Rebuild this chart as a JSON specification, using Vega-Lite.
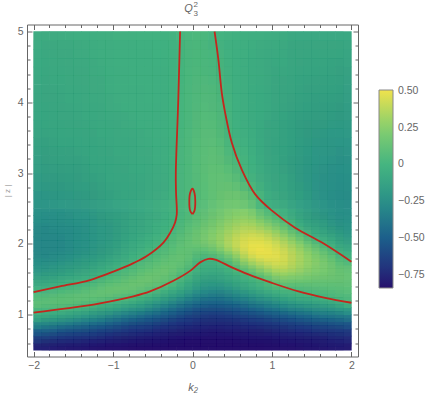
{"$schema":"https://vega.github.io/schema/vega-lite/v6.json","width":331,"height":332,"autosize":"none","padding":{"left":27,"top":24.5,"right":73,"bottom":36.5},"background":"white",
"title":{"text":"Q","font":"Liberation Sans","fontSize":11,"fontStyle":"italic","fontWeight":"normal","color":"#666","dx":-4,"offset":-13,"anchor":"middle"},
"config":{"view":{"stroke":null},"axis":{"grid":false,"domainColor":"#666","tickColor":"#666","labelColor":"#666","titleColor":"#666","labelFont":"Liberation Sans","titleFont":"Liberation Sans","labelFontSize":10.5,"titleFontWeight":"normal","domainWidth":1,"tickWidth":1,"labelOverlap":false,"labelBound":false,"labelFlush":false}},
"datasets":{
"low":[
{"k":-1.9,"z":0.55,"v":-0.78},{"k":-1.9,"z":0.65,"v":-0.67},{"k":-1.9,"z":0.75,"v":-0.52},{"k":-1.9,"z":0.85,"v":-0.32},{"k":-1.9,"z":0.95,"v":-0.12},{"k":-1.9,"z":1.05,"v":0},{"k":-1.9,"z":1.15,"v":0.1},{"k":-1.9,"z":1.25,"v":0.07},{"k":-1.9,"z":1.35,"v":-0.01},{"k":-1.9,"z":1.45,"v":-0.09},{"k":-1.9,"z":1.55,"v":-0.16},{"k":-1.9,"z":1.65,"v":-0.22},{"k":-1.9,"z":1.75,"v":-0.26},{"k":-1.9,"z":1.85,"v":-0.29},{"k":-1.9,"z":1.95,"v":-0.3},{"k":-1.9,"z":2.05,"v":-0.3},{"k":-1.9,"z":2.15,"v":-0.29},{"k":-1.9,"z":2.25,"v":-0.28},{"k":-1.9,"z":2.35,"v":-0.26},{"k":-1.9,"z":2.45,"v":-0.25},
{"k":-1.7,"z":0.55,"v":-0.8},{"k":-1.7,"z":0.65,"v":-0.7},{"k":-1.7,"z":0.75,"v":-0.56},{"k":-1.7,"z":0.85,"v":-0.37},{"k":-1.7,"z":0.95,"v":-0.16},{"k":-1.7,"z":1.05,"v":-0.01},{"k":-1.7,"z":1.15,"v":0.1},{"k":-1.7,"z":1.25,"v":0.1},{"k":-1.7,"z":1.35,"v":0.02},{"k":-1.7,"z":1.45,"v":-0.05},{"k":-1.7,"z":1.55,"v":-0.13},{"k":-1.7,"z":1.65,"v":-0.19},{"k":-1.7,"z":1.75,"v":-0.24},{"k":-1.7,"z":1.85,"v":-0.27},{"k":-1.7,"z":1.95,"v":-0.29},{"k":-1.7,"z":2.05,"v":-0.29},{"k":-1.7,"z":2.15,"v":-0.28},{"k":-1.7,"z":2.25,"v":-0.27},{"k":-1.7,"z":2.35,"v":-0.25},{"k":-1.7,"z":2.45,"v":-0.24},
{"k":-1.5,"z":0.55,"v":-0.81},{"k":-1.5,"z":0.65,"v":-0.72},{"k":-1.5,"z":0.75,"v":-0.59},{"k":-1.5,"z":0.85,"v":-0.41},{"k":-1.5,"z":0.95,"v":-0.2},{"k":-1.5,"z":1.05,"v":-0.05},{"k":-1.5,"z":1.15,"v":0.08},{"k":-1.5,"z":1.25,"v":0.12},{"k":-1.5,"z":1.35,"v":0.05},{"k":-1.5,"z":1.45,"v":-0.01},{"k":-1.5,"z":1.55,"v":-0.09},{"k":-1.5,"z":1.65,"v":-0.15},{"k":-1.5,"z":1.75,"v":-0.2},{"k":-1.5,"z":1.85,"v":-0.24},{"k":-1.5,"z":1.95,"v":-0.26},{"k":-1.5,"z":2.05,"v":-0.26},{"k":-1.5,"z":2.15,"v":-0.26},{"k":-1.5,"z":2.25,"v":-0.25},{"k":-1.5,"z":2.35,"v":-0.23},{"k":-1.5,"z":2.45,"v":-0.22},
{"k":-1.3,"z":0.55,"v":-0.82},{"k":-1.3,"z":0.65,"v":-0.74},{"k":-1.3,"z":0.75,"v":-0.62},{"k":-1.3,"z":0.85,"v":-0.46},{"k":-1.3,"z":0.95,"v":-0.26},{"k":-1.3,"z":1.05,"v":-0.09},{"k":-1.3,"z":1.15,"v":0.04},{"k":-1.3,"z":1.25,"v":0.13},{"k":-1.3,"z":1.35,"v":0.09},{"k":-1.3,"z":1.45,"v":0.02},{"k":-1.3,"z":1.55,"v":-0.05},{"k":-1.3,"z":1.65,"v":-0.11},{"k":-1.3,"z":1.75,"v":-0.16},{"k":-1.3,"z":1.85,"v":-0.2},{"k":-1.3,"z":1.95,"v":-0.22},{"k":-1.3,"z":2.05,"v":-0.23},{"k":-1.3,"z":2.15,"v":-0.23},{"k":-1.3,"z":2.25,"v":-0.22},{"k":-1.3,"z":2.35,"v":-0.21},{"k":-1.3,"z":2.45,"v":-0.2},
{"k":-1.1,"z":0.55,"v":-0.83},{"k":-1.1,"z":0.65,"v":-0.76},{"k":-1.1,"z":0.75,"v":-0.66},{"k":-1.1,"z":0.85,"v":-0.51},{"k":-1.1,"z":0.95,"v":-0.32},{"k":-1.1,"z":1.05,"v":-0.14},{"k":-1.1,"z":1.15,"v":-0.01},{"k":-1.1,"z":1.25,"v":0.11},{"k":-1.1,"z":1.35,"v":0.14},{"k":-1.1,"z":1.45,"v":0.08},{"k":-1.1,"z":1.55,"v":0.01},{"k":-1.1,"z":1.65,"v":-0.05},{"k":-1.1,"z":1.75,"v":-0.11},{"k":-1.1,"z":1.85,"v":-0.15},{"k":-1.1,"z":1.95,"v":-0.17},{"k":-1.1,"z":2.05,"v":-0.18},{"k":-1.1,"z":2.15,"v":-0.18},{"k":-1.1,"z":2.25,"v":-0.18},{"k":-1.1,"z":2.35,"v":-0.17},{"k":-1.1,"z":2.45,"v":-0.16},
{"k":-0.9,"z":0.55,"v":-0.83},{"k":-0.9,"z":0.65,"v":-0.78},{"k":-0.9,"z":0.75,"v":-0.69},{"k":-0.9,"z":0.85,"v":-0.56},{"k":-0.9,"z":0.95,"v":-0.39},{"k":-0.9,"z":1.05,"v":-0.21},{"k":-0.9,"z":1.15,"v":-0.05},{"k":-0.9,"z":1.25,"v":0.07},{"k":-0.9,"z":1.35,"v":0.15},{"k":-0.9,"z":1.45,"v":0.12},{"k":-0.9,"z":1.55,"v":0.06},{"k":-0.9,"z":1.65,"v":0.01},{"k":-0.9,"z":1.75,"v":-0.04},{"k":-0.9,"z":1.85,"v":-0.08},{"k":-0.9,"z":1.95,"v":-0.11},{"k":-0.9,"z":2.05,"v":-0.13},{"k":-0.9,"z":2.15,"v":-0.14},{"k":-0.9,"z":2.25,"v":-0.14},{"k":-0.9,"z":2.35,"v":-0.13},{"k":-0.9,"z":2.45,"v":-0.13},
{"k":-0.7,"z":0.55,"v":-0.84},{"k":-0.7,"z":0.65,"v":-0.8},{"k":-0.7,"z":0.75,"v":-0.72},{"k":-0.7,"z":0.85,"v":-0.61},{"k":-0.7,"z":0.95,"v":-0.46},{"k":-0.7,"z":1.05,"v":-0.28},{"k":-0.7,"z":1.15,"v":-0.11},{"k":-0.7,"z":1.25,"v":0.02},{"k":-0.7,"z":1.35,"v":0.13},{"k":-0.7,"z":1.45,"v":0.16},{"k":-0.7,"z":1.55,"v":0.12},{"k":-0.7,"z":1.65,"v":0.07},{"k":-0.7,"z":1.75,"v":0.03},{"k":-0.7,"z":1.85,"v":-0.01},{"k":-0.7,"z":1.95,"v":-0.05},{"k":-0.7,"z":2.05,"v":-0.07},{"k":-0.7,"z":2.15,"v":-0.09},{"k":-0.7,"z":2.25,"v":-0.1},{"k":-0.7,"z":2.35,"v":-0.1},{"k":-0.7,"z":2.45,"v":-0.1},
{"k":-0.5,"z":0.55,"v":-0.84},{"k":-0.5,"z":0.65,"v":-0.81},{"k":-0.5,"z":0.75,"v":-0.75},{"k":-0.5,"z":0.85,"v":-0.65},{"k":-0.5,"z":0.95,"v":-0.52},{"k":-0.5,"z":1.05,"v":-0.36},{"k":-0.5,"z":1.15,"v":-0.19},{"k":-0.5,"z":1.25,"v":-0.05},{"k":-0.5,"z":1.35,"v":0.06},{"k":-0.5,"z":1.45,"v":0.15},{"k":-0.5,"z":1.55,"v":0.16},{"k":-0.5,"z":1.65,"v":0.12},{"k":-0.5,"z":1.75,"v":0.08},{"k":-0.5,"z":1.85,"v":0.04},{"k":-0.5,"z":1.95,"v":0.01},{"k":-0.5,"z":2.05,"v":-0.02},{"k":-0.5,"z":2.15,"v":-0.04},{"k":-0.5,"z":2.25,"v":-0.05},{"k":-0.5,"z":2.35,"v":-0.06},{"k":-0.5,"z":2.45,"v":-0.06},
{"k":-0.3,"z":0.55,"v":-0.84},{"k":-0.3,"z":0.65,"v":-0.82},{"k":-0.3,"z":0.75,"v":-0.77},{"k":-0.3,"z":0.85,"v":-0.69},{"k":-0.3,"z":0.95,"v":-0.58},{"k":-0.3,"z":1.05,"v":-0.45},{"k":-0.3,"z":1.15,"v":-0.29},{"k":-0.3,"z":1.25,"v":-0.14},{"k":-0.3,"z":1.35,"v":-0.02},{"k":-0.3,"z":1.45,"v":0.08},{"k":-0.3,"z":1.55,"v":0.14},{"k":-0.3,"z":1.65,"v":0.16},{"k":-0.3,"z":1.75,"v":0.13},{"k":-0.3,"z":1.85,"v":0.1},{"k":-0.3,"z":1.95,"v":0.07},{"k":-0.3,"z":2.05,"v":0.05},{"k":-0.3,"z":2.15,"v":0.02},{"k":-0.3,"z":2.25,"v":-0.01},{"k":-0.3,"z":2.35,"v":-0.02},{"k":-0.3,"z":2.45,"v":-0.03},
{"k":-0.1,"z":0.55,"v":-0.84},{"k":-0.1,"z":0.65,"v":-0.83},{"k":-0.1,"z":0.75,"v":-0.79},{"k":-0.1,"z":0.85,"v":-0.73},{"k":-0.1,"z":0.95,"v":-0.64},{"k":-0.1,"z":1.05,"v":-0.53},{"k":-0.1,"z":1.15,"v":-0.39},{"k":-0.1,"z":1.25,"v":-0.25},{"k":-0.1,"z":1.35,"v":-0.12},{"k":-0.1,"z":1.45,"v":-0.04},{"k":-0.1,"z":1.55,"v":0.03},{"k":-0.1,"z":1.65,"v":0.09},{"k":-0.1,"z":1.75,"v":0.13},{"k":-0.1,"z":1.85,"v":0.14},{"k":-0.1,"z":1.95,"v":0.13},{"k":-0.1,"z":2.05,"v":0.11},{"k":-0.1,"z":2.15,"v":0.09},{"k":-0.1,"z":2.25,"v":0.07},{"k":-0.1,"z":2.35,"v":0.05},{"k":-0.1,"z":2.45,"v":0.04},
{"k":0.1,"z":0.55,"v":-0.84},{"k":0.1,"z":0.65,"v":-0.83},{"k":0.1,"z":0.75,"v":-0.8},{"k":0.1,"z":0.85,"v":-0.75},{"k":0.1,"z":0.95,"v":-0.68},{"k":0.1,"z":1.05,"v":-0.59},{"k":0.1,"z":1.15,"v":-0.47},{"k":0.1,"z":1.25,"v":-0.35},{"k":0.1,"z":1.35,"v":-0.24},{"k":0.1,"z":1.45,"v":-0.16},{"k":0.1,"z":1.55,"v":-0.09},{"k":0.1,"z":1.65,"v":-0.04},{"k":0.1,"z":1.75,"v":-0.01},{"k":0.1,"z":1.85,"v":0.05},{"k":0.1,"z":1.95,"v":0.13},{"k":0.1,"z":2.05,"v":0.18},{"k":0.1,"z":2.15,"v":0.17},{"k":0.1,"z":2.25,"v":0.14},{"k":0.1,"z":2.35,"v":0.11},{"k":0.1,"z":2.45,"v":0.09},
{"k":0.3,"z":0.55,"v":-0.84},{"k":0.3,"z":0.65,"v":-0.83},{"k":0.3,"z":0.75,"v":-0.81},{"k":0.3,"z":0.85,"v":-0.76},{"k":0.3,"z":0.95,"v":-0.7},{"k":0.3,"z":1.05,"v":-0.61},{"k":0.3,"z":1.15,"v":-0.5},{"k":0.3,"z":1.25,"v":-0.39},{"k":0.3,"z":1.35,"v":-0.28},{"k":0.3,"z":1.45,"v":-0.19},{"k":0.3,"z":1.55,"v":-0.11},{"k":0.3,"z":1.65,"v":-0.05},{"k":0.3,"z":1.75,"v":-0.01},{"k":0.3,"z":1.85,"v":0.09},{"k":0.3,"z":1.95,"v":0.22},{"k":0.3,"z":2.05,"v":0.27},{"k":0.3,"z":2.15,"v":0.26},{"k":0.3,"z":2.25,"v":0.22},{"k":0.3,"z":2.35,"v":0.19},{"k":0.3,"z":2.45,"v":0.16},
{"k":0.5,"z":0.55,"v":-0.84},{"k":0.5,"z":0.65,"v":-0.83},{"k":0.5,"z":0.75,"v":-0.8},{"k":0.5,"z":0.85,"v":-0.75},{"k":0.5,"z":0.95,"v":-0.68},{"k":0.5,"z":1.05,"v":-0.58},{"k":0.5,"z":1.15,"v":-0.46},{"k":0.5,"z":1.25,"v":-0.33},{"k":0.5,"z":1.35,"v":-0.22},{"k":0.5,"z":1.45,"v":-0.12},{"k":0.5,"z":1.55,"v":-0.05},{"k":0.5,"z":1.65,"v":0.01},{"k":0.5,"z":1.75,"v":0.1},{"k":0.5,"z":1.85,"v":0.25},{"k":0.5,"z":1.95,"v":0.37},{"k":0.5,"z":2.05,"v":0.38},{"k":0.5,"z":2.15,"v":0.35},{"k":0.5,"z":2.25,"v":0.31},{"k":0.5,"z":2.35,"v":0.27},{"k":0.5,"z":2.45,"v":0.23},
{"k":0.7,"z":0.55,"v":-0.84},{"k":0.7,"z":0.65,"v":-0.82},{"k":0.7,"z":0.75,"v":-0.79},{"k":0.7,"z":0.85,"v":-0.73},{"k":0.7,"z":0.95,"v":-0.64},{"k":0.7,"z":1.05,"v":-0.53},{"k":0.7,"z":1.15,"v":-0.39},{"k":0.7,"z":1.25,"v":-0.26},{"k":0.7,"z":1.35,"v":-0.13},{"k":0.7,"z":1.45,"v":-0.04},{"k":0.7,"z":1.55,"v":0.03},{"k":0.7,"z":1.65,"v":0.15},{"k":0.7,"z":1.75,"v":0.32},{"k":0.7,"z":1.85,"v":0.44},{"k":0.7,"z":1.95,"v":0.49},{"k":0.7,"z":2.05,"v":0.47},{"k":0.7,"z":2.15,"v":0.42},{"k":0.7,"z":2.25,"v":0.36},{"k":0.7,"z":2.35,"v":0.3},{"k":0.7,"z":2.45,"v":0.25},
{"k":0.9,"z":0.55,"v":-0.84},{"k":0.9,"z":0.65,"v":-0.82},{"k":0.9,"z":0.75,"v":-0.78},{"k":0.9,"z":0.85,"v":-0.71},{"k":0.9,"z":0.95,"v":-0.61},{"k":0.9,"z":1.05,"v":-0.48},{"k":0.9,"z":1.15,"v":-0.33},{"k":0.9,"z":1.25,"v":-0.18},{"k":0.9,"z":1.35,"v":-0.05},{"k":0.9,"z":1.45,"v":0.03},{"k":0.9,"z":1.55,"v":0.13},{"k":0.9,"z":1.65,"v":0.3},{"k":0.9,"z":1.75,"v":0.43},{"k":0.9,"z":1.85,"v":0.5},{"k":0.9,"z":1.95,"v":0.5},{"k":0.9,"z":2.05,"v":0.46},{"k":0.9,"z":2.15,"v":0.39},{"k":0.9,"z":2.25,"v":0.29},{"k":0.9,"z":2.35,"v":0.18},{"k":0.9,"z":2.45,"v":0.07},
{"k":1.1,"z":0.55,"v":-0.83},{"k":1.1,"z":0.65,"v":-0.81},{"k":1.1,"z":0.75,"v":-0.76},{"k":1.1,"z":0.85,"v":-0.68},{"k":1.1,"z":0.95,"v":-0.56},{"k":1.1,"z":1.05,"v":-0.42},{"k":1.1,"z":1.15,"v":-0.26},{"k":1.1,"z":1.25,"v":-0.1},{"k":1.1,"z":1.35,"v":0.02},{"k":1.1,"z":1.45,"v":0.14},{"k":1.1,"z":1.55,"v":0.28},{"k":1.1,"z":1.65,"v":0.4},{"k":1.1,"z":1.75,"v":0.46},{"k":1.1,"z":1.85,"v":0.47},{"k":1.1,"z":1.95,"v":0.43},{"k":1.1,"z":2.05,"v":0.37},{"k":1.1,"z":2.15,"v":0.28},{"k":1.1,"z":2.25,"v":0.17},{"k":1.1,"z":2.35,"v":0.06},{"k":1.1,"z":2.45,"v":-0.01},
{"k":1.3,"z":0.55,"v":-0.83},{"k":1.3,"z":0.65,"v":-0.8},{"k":1.3,"z":0.75,"v":-0.74},{"k":1.3,"z":0.85,"v":-0.65},{"k":1.3,"z":0.95,"v":-0.52},{"k":1.3,"z":1.05,"v":-0.36},{"k":1.3,"z":1.15,"v":-0.19},{"k":1.3,"z":1.25,"v":-0.04},{"k":1.3,"z":1.35,"v":0.03},{"k":1.3,"z":1.45,"v":0.13},{"k":1.3,"z":1.55,"v":0.25},{"k":1.3,"z":1.65,"v":0.33},{"k":1.3,"z":1.75,"v":0.36},{"k":1.3,"z":1.85,"v":0.36},{"k":1.3,"z":1.95,"v":0.32},{"k":1.3,"z":2.05,"v":0.24},{"k":1.3,"z":2.15,"v":0.12},{"k":1.3,"z":2.25,"v":-0.01},{"k":1.3,"z":2.35,"v":-0.07},{"k":1.3,"z":2.45,"v":-0.1},
{"k":1.5,"z":0.55,"v":-0.82},{"k":1.5,"z":0.65,"v":-0.79},{"k":1.5,"z":0.75,"v":-0.72},{"k":1.5,"z":0.85,"v":-0.62},{"k":1.5,"z":0.95,"v":-0.48},{"k":1.5,"z":1.05,"v":-0.31},{"k":1.5,"z":1.15,"v":-0.15},{"k":1.5,"z":1.25,"v":-0.02},{"k":1.5,"z":1.35,"v":0.06},{"k":1.5,"z":1.45,"v":0.13},{"k":1.5,"z":1.55,"v":0.2},{"k":1.5,"z":1.65,"v":0.25},{"k":1.5,"z":1.75,"v":0.27},{"k":1.5,"z":1.85,"v":0.25},{"k":1.5,"z":1.95,"v":0.17},{"k":1.5,"z":2.05,"v":0.05},{"k":1.5,"z":2.15,"v":-0.05},{"k":1.5,"z":2.25,"v":-0.11},{"k":1.5,"z":2.35,"v":-0.15},{"k":1.5,"z":2.45,"v":-0.17},
{"k":1.7,"z":0.55,"v":-0.81},{"k":1.7,"z":0.65,"v":-0.77},{"k":1.7,"z":0.75,"v":-0.7},{"k":1.7,"z":0.85,"v":-0.59},{"k":1.7,"z":0.95,"v":-0.44},{"k":1.7,"z":1.05,"v":-0.27},{"k":1.7,"z":1.15,"v":-0.11},{"k":1.7,"z":1.25,"v":0.01},{"k":1.7,"z":1.35,"v":0.07},{"k":1.7,"z":1.45,"v":0.13},{"k":1.7,"z":1.55,"v":0.17},{"k":1.7,"z":1.65,"v":0.2},{"k":1.7,"z":1.75,"v":0.19},{"k":1.7,"z":1.85,"v":0.13},{"k":1.7,"z":1.95,"v":0.04},{"k":1.7,"z":2.05,"v":-0.05},{"k":1.7,"z":2.15,"v":-0.12},{"k":1.7,"z":2.25,"v":-0.17},{"k":1.7,"z":2.35,"v":-0.2},{"k":1.7,"z":2.45,"v":-0.22},
{"k":1.9,"z":0.55,"v":-0.8},{"k":1.9,"z":0.65,"v":-0.75},{"k":1.9,"z":0.75,"v":-0.68},{"k":1.9,"z":0.85,"v":-0.56},{"k":1.9,"z":0.95,"v":-0.4},{"k":1.9,"z":1.05,"v":-0.23},{"k":1.9,"z":1.15,"v":-0.03},{"k":1.9,"z":1.25,"v":0.05},{"k":1.9,"z":1.35,"v":0.09},{"k":1.9,"z":1.45,"v":0.12},{"k":1.9,"z":1.55,"v":0.14},{"k":1.9,"z":1.65,"v":0.12},{"k":1.9,"z":1.75,"v":0.05},{"k":1.9,"z":1.85,"v":-0.02},{"k":1.9,"z":1.95,"v":-0.1},{"k":1.9,"z":2.05,"v":-0.16},{"k":1.9,"z":2.15,"v":-0.2},{"k":1.9,"z":2.25,"v":-0.23},{"k":1.9,"z":2.35,"v":-0.25},{"k":1.9,"z":2.45,"v":-0.26}
],
"high":[
{"k":-1.9,"z":2.625,"v":-0.22},{"k":-1.9,"z":2.875,"v":-0.18},{"k":-1.9,"z":3.125,"v":-0.15},{"k":-1.9,"z":3.375,"v":-0.13},{"k":-1.9,"z":3.625,"v":-0.11},{"k":-1.9,"z":3.875,"v":-0.1},{"k":-1.9,"z":4.125,"v":-0.09},{"k":-1.9,"z":4.375,"v":-0.08},{"k":-1.9,"z":4.625,"v":-0.07},{"k":-1.9,"z":4.875,"v":-0.06},
{"k":-1.7,"z":2.625,"v":-0.2},{"k":-1.7,"z":2.875,"v":-0.17},{"k":-1.7,"z":3.125,"v":-0.14},{"k":-1.7,"z":3.375,"v":-0.12},{"k":-1.7,"z":3.625,"v":-0.1},{"k":-1.7,"z":3.875,"v":-0.09},{"k":-1.7,"z":4.125,"v":-0.08},{"k":-1.7,"z":4.375,"v":-0.07},{"k":-1.7,"z":4.625,"v":-0.06},{"k":-1.7,"z":4.875,"v":-0.06},
{"k":-1.5,"z":2.625,"v":-0.19},{"k":-1.5,"z":2.875,"v":-0.16},{"k":-1.5,"z":3.125,"v":-0.13},{"k":-1.5,"z":3.375,"v":-0.11},{"k":-1.5,"z":3.625,"v":-0.09},{"k":-1.5,"z":3.875,"v":-0.08},{"k":-1.5,"z":4.125,"v":-0.07},{"k":-1.5,"z":4.375,"v":-0.06},{"k":-1.5,"z":4.625,"v":-0.06},{"k":-1.5,"z":4.875,"v":-0.05},
{"k":-1.3,"z":2.625,"v":-0.17},{"k":-1.3,"z":2.875,"v":-0.14},{"k":-1.3,"z":3.125,"v":-0.12},{"k":-1.3,"z":3.375,"v":-0.1},{"k":-1.3,"z":3.625,"v":-0.08},{"k":-1.3,"z":3.875,"v":-0.07},{"k":-1.3,"z":4.125,"v":-0.06},{"k":-1.3,"z":4.375,"v":-0.06},{"k":-1.3,"z":4.625,"v":-0.05},{"k":-1.3,"z":4.875,"v":-0.05},
{"k":-1.1,"z":2.625,"v":-0.14},{"k":-1.1,"z":2.875,"v":-0.12},{"k":-1.1,"z":3.125,"v":-0.1},{"k":-1.1,"z":3.375,"v":-0.08},{"k":-1.1,"z":3.625,"v":-0.07},{"k":-1.1,"z":3.875,"v":-0.06},{"k":-1.1,"z":4.125,"v":-0.05},{"k":-1.1,"z":4.375,"v":-0.05},{"k":-1.1,"z":4.625,"v":-0.04},{"k":-1.1,"z":4.875,"v":-0.04},
{"k":-0.9,"z":2.625,"v":-0.11},{"k":-0.9,"z":2.875,"v":-0.1},{"k":-0.9,"z":3.125,"v":-0.08},{"k":-0.9,"z":3.375,"v":-0.07},{"k":-0.9,"z":3.625,"v":-0.06},{"k":-0.9,"z":3.875,"v":-0.05},{"k":-0.9,"z":4.125,"v":-0.04},{"k":-0.9,"z":4.375,"v":-0.04},{"k":-0.9,"z":4.625,"v":-0.03},{"k":-0.9,"z":4.875,"v":-0.03},
{"k":-0.7,"z":2.625,"v":-0.09},{"k":-0.7,"z":2.875,"v":-0.08},{"k":-0.7,"z":3.125,"v":-0.07},{"k":-0.7,"z":3.375,"v":-0.06},{"k":-0.7,"z":3.625,"v":-0.05},{"k":-0.7,"z":3.875,"v":-0.04},{"k":-0.7,"z":4.125,"v":-0.04},{"k":-0.7,"z":4.375,"v":-0.03},{"k":-0.7,"z":4.625,"v":-0.03},{"k":-0.7,"z":4.875,"v":-0.03},
{"k":-0.5,"z":2.625,"v":-0.06},{"k":-0.5,"z":2.875,"v":-0.06},{"k":-0.5,"z":3.125,"v":-0.05},{"k":-0.5,"z":3.375,"v":-0.05},{"k":-0.5,"z":3.625,"v":-0.04},{"k":-0.5,"z":3.875,"v":-0.04},{"k":-0.5,"z":4.125,"v":-0.03},{"k":-0.5,"z":4.375,"v":-0.03},{"k":-0.5,"z":4.625,"v":-0.03},{"k":-0.5,"z":4.875,"v":-0.02},
{"k":-0.3,"z":2.625,"v":-0.03},{"k":-0.3,"z":2.875,"v":-0.04},{"k":-0.3,"z":3.125,"v":-0.04},{"k":-0.3,"z":3.375,"v":-0.04},{"k":-0.3,"z":3.625,"v":-0.03},{"k":-0.3,"z":3.875,"v":-0.03},{"k":-0.3,"z":4.125,"v":-0.03},{"k":-0.3,"z":4.375,"v":-0.03},{"k":-0.3,"z":4.625,"v":-0.02},{"k":-0.3,"z":4.875,"v":-0.02},
{"k":-0.1,"z":2.625,"v":0.04},{"k":-0.1,"z":2.875,"v":0.04},{"k":-0.1,"z":3.125,"v":0.04},{"k":-0.1,"z":3.375,"v":0.04},{"k":-0.1,"z":3.625,"v":0.03},{"k":-0.1,"z":3.875,"v":0.03},{"k":-0.1,"z":4.125,"v":0.03},{"k":-0.1,"z":4.375,"v":0.02},{"k":-0.1,"z":4.625,"v":0.02},{"k":-0.1,"z":4.875,"v":0.02},
{"k":0.1,"z":2.625,"v":0.07},{"k":0.1,"z":2.875,"v":0.08},{"k":0.1,"z":3.125,"v":0.09},{"k":0.1,"z":3.375,"v":0.09},{"k":0.1,"z":3.625,"v":0.08},{"k":0.1,"z":3.875,"v":0.07},{"k":0.1,"z":4.125,"v":0.06},{"k":0.1,"z":4.375,"v":0.05},{"k":0.1,"z":4.625,"v":0.04},{"k":0.1,"z":4.875,"v":0.04},
{"k":0.3,"z":2.625,"v":0.14},{"k":0.3,"z":2.875,"v":0.13},{"k":0.3,"z":3.125,"v":0.12},{"k":0.3,"z":3.375,"v":0.1},{"k":0.3,"z":3.625,"v":0.08},{"k":0.3,"z":3.875,"v":0.06},{"k":0.3,"z":4.125,"v":0.05},{"k":0.3,"z":4.375,"v":0.03},{"k":0.3,"z":4.625,"v":0.02},{"k":0.3,"z":4.875,"v":0},
{"k":0.5,"z":2.625,"v":0.18},{"k":0.5,"z":2.875,"v":0.12},{"k":0.5,"z":3.125,"v":0.06},{"k":0.5,"z":3.375,"v":0.01},{"k":0.5,"z":3.625,"v":-0.01},{"k":0.5,"z":3.875,"v":-0.02},{"k":0.5,"z":4.125,"v":-0.03},{"k":0.5,"z":4.375,"v":-0.03},{"k":0.5,"z":4.625,"v":-0.03},{"k":0.5,"z":4.875,"v":-0.03},
{"k":0.7,"z":2.625,"v":0.15},{"k":0.7,"z":2.875,"v":0.02},{"k":0.7,"z":3.125,"v":-0.01},{"k":0.7,"z":3.375,"v":-0.03},{"k":0.7,"z":3.625,"v":-0.04},{"k":0.7,"z":3.875,"v":-0.05},{"k":0.7,"z":4.125,"v":-0.05},{"k":0.7,"z":4.375,"v":-0.05},{"k":0.7,"z":4.625,"v":-0.05},{"k":0.7,"z":4.875,"v":-0.04},
{"k":0.9,"z":2.625,"v":-0.02},{"k":0.9,"z":2.875,"v":-0.06},{"k":0.9,"z":3.125,"v":-0.07},{"k":0.9,"z":3.375,"v":-0.08},{"k":0.9,"z":3.625,"v":-0.08},{"k":0.9,"z":3.875,"v":-0.07},{"k":0.9,"z":4.125,"v":-0.07},{"k":0.9,"z":4.375,"v":-0.06},{"k":0.9,"z":4.625,"v":-0.06},{"k":0.9,"z":4.875,"v":-0.05},
{"k":1.1,"z":2.625,"v":-0.06},{"k":1.1,"z":2.875,"v":-0.1},{"k":1.1,"z":3.125,"v":-0.11},{"k":1.1,"z":3.375,"v":-0.12},{"k":1.1,"z":3.625,"v":-0.11},{"k":1.1,"z":3.875,"v":-0.1},{"k":1.1,"z":4.125,"v":-0.09},{"k":1.1,"z":4.375,"v":-0.08},{"k":1.1,"z":4.625,"v":-0.07},{"k":1.1,"z":4.875,"v":-0.06},
{"k":1.3,"z":2.625,"v":-0.13},{"k":1.3,"z":2.875,"v":-0.16},{"k":1.3,"z":3.125,"v":-0.17},{"k":1.3,"z":3.375,"v":-0.16},{"k":1.3,"z":3.625,"v":-0.15},{"k":1.3,"z":3.875,"v":-0.13},{"k":1.3,"z":4.125,"v":-0.11},{"k":1.3,"z":4.375,"v":-0.1},{"k":1.3,"z":4.625,"v":-0.09},{"k":1.3,"z":4.875,"v":-0.08},
{"k":1.5,"z":2.625,"v":-0.19},{"k":1.5,"z":2.875,"v":-0.21},{"k":1.5,"z":3.125,"v":-0.2},{"k":1.5,"z":3.375,"v":-0.19},{"k":1.5,"z":3.625,"v":-0.17},{"k":1.5,"z":3.875,"v":-0.15},{"k":1.5,"z":4.125,"v":-0.13},{"k":1.5,"z":4.375,"v":-0.11},{"k":1.5,"z":4.625,"v":-0.1},{"k":1.5,"z":4.875,"v":-0.08},
{"k":1.7,"z":2.625,"v":-0.24},{"k":1.7,"z":2.875,"v":-0.24},{"k":1.7,"z":3.125,"v":-0.22},{"k":1.7,"z":3.375,"v":-0.2},{"k":1.7,"z":3.625,"v":-0.18},{"k":1.7,"z":3.875,"v":-0.16},{"k":1.7,"z":4.125,"v":-0.14},{"k":1.7,"z":4.375,"v":-0.12},{"k":1.7,"z":4.625,"v":-0.1},{"k":1.7,"z":4.875,"v":-0.09},
{"k":1.9,"z":2.625,"v":-0.27},{"k":1.9,"z":2.875,"v":-0.26},{"k":1.9,"z":3.125,"v":-0.24},{"k":1.9,"z":3.375,"v":-0.21},{"k":1.9,"z":3.625,"v":-0.19},{"k":1.9,"z":3.875,"v":-0.17},{"k":1.9,"z":4.125,"v":-0.15},{"k":1.9,"z":4.375,"v":-0.13},{"k":1.9,"z":4.625,"v":-0.11},{"k":1.9,"z":4.875,"v":-0.09}
],
"contours":[
{"c":"A","i":0,"k":-0.156,"z":5},{"c":"A","i":1,"k":-0.18,"z":4},{"c":"A","i":2,"k":-0.21,"z":3},{"c":"A","i":3,"k":-0.207,"z":2.72},{"c":"A","i":4,"k":-0.198,"z":2.42},{"c":"A","i":5,"k":-0.22,"z":2.3},{"c":"A","i":6,"k":-0.28,"z":2.16},{"c":"A","i":7,"k":-0.366,"z":2.02},{"c":"A","i":8,"k":-0.575,"z":1.83},{"c":"A","i":9,"k":-0.744,"z":1.73},{"c":"A","i":10,"k":-0.996,"z":1.61},{"c":"A","i":11,"k":-1.29,"z":1.49},{"c":"A","i":12,"k":-1.667,"z":1.4},{"c":"A","i":13,"k":-2,"z":1.32},
{"c":"B","i":0,"k":-2,"z":1.03},{"c":"B","i":1,"k":-1.583,"z":1.09},{"c":"B","i":2,"k":-1.164,"z":1.16},{"c":"B","i":3,"k":-0.744,"z":1.26},{"c":"B","i":4,"k":-0.534,"z":1.33},{"c":"B","i":5,"k":-0.24,"z":1.48},{"c":"B","i":6,"k":-0.03,"z":1.62},{"c":"B","i":7,"k":0.096,"z":1.74},{"c":"B","i":8,"k":0.2,"z":1.79},{"c":"B","i":9,"k":0.285,"z":1.78},{"c":"B","i":10,"k":0.495,"z":1.67},{"c":"B","i":11,"k":0.704,"z":1.57},{"c":"B","i":12,"k":1,"z":1.45},{"c":"B","i":13,"k":1.334,"z":1.33},{"c":"B","i":14,"k":1.67,"z":1.24},{"c":"B","i":15,"k":2,"z":1.17},
{"c":"C","i":0,"k":0.278,"z":5},{"c":"C","i":1,"k":0.326,"z":4.6},{"c":"C","i":2,"k":0.369,"z":4.13},{"c":"C","i":3,"k":0.42,"z":3.8},{"c":"C","i":4,"k":0.495,"z":3.43},{"c":"C","i":5,"k":0.62,"z":3.05},{"c":"C","i":6,"k":0.79,"z":2.7},{"c":"C","i":7,"k":1,"z":2.47},{"c":"C","i":8,"k":1.29,"z":2.23},{"c":"C","i":9,"k":1.63,"z":2.02},{"c":"C","i":10,"k":2,"z":1.75},
{"c":"D","i":0,"k":0,"z":2.42},{"c":"D","i":1,"k":-0.03,"z":2.47},{"c":"D","i":2,"k":-0.04,"z":2.6},{"c":"D","i":3,"k":-0.03,"z":2.72},{"c":"D","i":4,"k":0,"z":2.78},{"c":"D","i":5,"k":0.025,"z":2.72},{"c":"D","i":6,"k":0.035,"z":2.6},{"c":"D","i":7,"k":0.025,"z":2.47},{"c":"D","i":8,"k":0,"z":2.42}
],
"indices":[{"k":0.04,"z":5.38,"t":"2"},{"k":0.04,"z":5.25,"t":"3"}]
},
"encoding":{
"x":{"field":"k","type":"quantitative","scale":{"domain":[-2.083,2.083],"nice":false,"zero":false},"axis":null},
"y":{"field":"z","type":"quantitative","scale":{"domain":[0.411,5.099],"nice":false,"zero":false},"axis":null},
"color":{"field":"v","type":"quantitative","scale":{"domain":[-0.84,-0.75,-0.5,-0.25,0,0.25,0.505],"range":["#26106c","#23297a","#1c5f8b","#2a9188","#45b580","#86cf6e","#f0e24c"],"interpolate":"rgb"},"legend":{"orient":"none","legendX":352,"legendY":65.5,"title":null,"gradientLength":198,"gradientThickness":14,"gradientStrokeColor":"#888","gradientStrokeWidth":1,"values":[-0.75,-0.5,-0.25,0,0.25,0.5],"labelExpr":"datum.value==0?'0':replace(format(datum.value,'.2f'),'-','−')","labelColor":"#666","labelFont":"Liberation Sans","labelFontSize":10.5,"labelOffset":5,"labelOverlap":false}}
},
"layer":[
{"data":{"name":"low"},"mark":{"type":"rect","width":16.4,"height":7.7},
"encoding":{
"x":{"field":"k","type":"quantitative","title":"k₂","axis":{"orient":"bottom","values":[-2,-1.8,-1.6,-1.4,-1.2,-1,-0.8,-0.6,-0.4,-0.2,0,0.2,0.4,0.6,0.8,1,1.2,1.4,1.6,1.8,2],"tickSize":{"expr":"abs(datum.value-round(datum.value))<0.01?-5:-3"},"labelExpr":"abs(datum.value-round(datum.value))<0.01?replace(format(round(datum.value),'d'),'-','−'):''","labelPadding":9,"titleFontSize":11,"titleFontStyle":"italic","titlePadding":8}},
"y":{"field":"z","type":"quantitative","title":"| z |","axis":{"orient":"left","values":[0.6,0.8,1,1.2,1.4,1.6,1.8,2,2.2,2.4,2.6,2.8,3,3.2,3.4,3.6,3.8,4,4.2,4.4,4.6,4.8,5],"tickSize":{"expr":"abs(datum.value-round(datum.value))<0.01?-5:-3"},"labelExpr":"abs(datum.value-round(datum.value))<0.01?format(round(datum.value),'d'):''","labelPadding":9,"titleFontSize":8,"titleColor":"#999","titlePadding":6}}}},
{"data":{"name":"low"},"transform":[{"filter":"datum.k<1.9"}],"mark":{"type":"rect","width":15.89,"height":7.08,"xOffset":7.94,"fillOpacity":0.333}},
{"data":{"name":"low"},"transform":[{"filter":"datum.k>-1.9"}],"mark":{"type":"rect","width":15.89,"height":7.08,"xOffset":-7.94,"fillOpacity":0.25}},
{"data":{"name":"low"},"transform":[{"filter":"datum.z<2.45"}],"mark":{"type":"rect","width":15.89,"height":7.08,"yOffset":-3.54,"fillOpacity":0.2}},
{"data":{"name":"low"},"transform":[{"filter":"datum.z>0.55"}],"mark":{"type":"rect","width":15.89,"height":7.08,"yOffset":3.54,"fillOpacity":0.167}},
{"data":{"name":"low"},"transform":[{"filter":"datum.k<1.9&&datum.z<2.45"}],"mark":{"type":"rect","width":15.89,"height":7.08,"xOffset":7.94,"yOffset":-3.54,"fillOpacity":0.077}},
{"data":{"name":"low"},"transform":[{"filter":"datum.k>-1.9&&datum.z<2.45"}],"mark":{"type":"rect","width":15.89,"height":7.08,"xOffset":-7.94,"yOffset":-3.54,"fillOpacity":0.071}},
{"data":{"name":"low"},"transform":[{"filter":"datum.k<1.9&&datum.z>0.55"}],"mark":{"type":"rect","width":15.89,"height":7.08,"xOffset":7.94,"yOffset":3.54,"fillOpacity":0.067}},
{"data":{"name":"low"},"transform":[{"filter":"datum.k>-1.9&&datum.z>0.55"}],"mark":{"type":"rect","width":15.89,"height":7.08,"xOffset":-7.94,"yOffset":3.54,"fillOpacity":0.0625}},
{"data":{"name":"high"},"mark":{"type":"rect","width":16.4,"height":18.2}},
{"data":{"name":"high"},"transform":[{"filter":"datum.k<1.9"}],"mark":{"type":"rect","width":15.89,"height":17.7,"xOffset":7.94,"fillOpacity":0.333}},
{"data":{"name":"high"},"transform":[{"filter":"datum.k>-1.9"}],"mark":{"type":"rect","width":15.89,"height":17.7,"xOffset":-7.94,"fillOpacity":0.25}},
{"data":{"name":"high"},"transform":[{"filter":"datum.z<4.875"}],"mark":{"type":"rect","width":15.89,"height":17.7,"yOffset":-8.85,"fillOpacity":0.2}},
{"data":{"name":"high"},"transform":[{"filter":"datum.z>2.625"}],"mark":{"type":"rect","width":15.89,"height":17.7,"yOffset":8.85,"fillOpacity":0.167}},
{"data":{"name":"high"},"transform":[{"filter":"datum.k<1.9&&datum.z<4.875"}],"mark":{"type":"rect","width":15.89,"height":17.7,"xOffset":7.94,"yOffset":-8.85,"fillOpacity":0.077}},
{"data":{"name":"high"},"transform":[{"filter":"datum.k>-1.9&&datum.z<4.875"}],"mark":{"type":"rect","width":15.89,"height":17.7,"xOffset":-7.94,"yOffset":-8.85,"fillOpacity":0.071}},
{"data":{"name":"high"},"transform":[{"filter":"datum.k<1.9&&datum.z>2.625"}],"mark":{"type":"rect","width":15.89,"height":17.7,"xOffset":7.94,"yOffset":8.85,"fillOpacity":0.067}},
{"data":{"name":"high"},"transform":[{"filter":"datum.k>-1.9&&datum.z>2.625"}],"mark":{"type":"rect","width":15.89,"height":17.7,"xOffset":-7.94,"yOffset":8.85,"fillOpacity":0.0625}},
{"data":{"name":"contours"},"mark":{"type":"line","strokeWidth":1.8,"interpolate":"catmull-rom"},
"encoding":{
"x":{"field":"k","type":"quantitative","title":null,"axis":{"orient":"top","values":[-2,-1.8,-1.6,-1.4,-1.2,-1,-0.8,-0.6,-0.4,-0.2,0,0.2,0.4,0.6,0.8,1,1.2,1.4,1.6,1.8,2],"tickSize":{"expr":"abs(datum.value-round(datum.value))<0.01?-5:-3"},"labels":false}},
"y":{"field":"z","type":"quantitative","title":null,"axis":{"orient":"right","values":[0.6,0.8,1,1.2,1.4,1.6,1.8,2,2.2,2.4,2.6,2.8,3,3.2,3.4,3.6,3.8,4,4.2,4.4,4.6,4.8,5],"tickSize":{"expr":"abs(datum.value-round(datum.value))<0.01?-5:-3"},"labels":false}},
"color":{"value":"#c4261d"},
"detail":{"field":"c"},
"order":{"field":"i","type":"quantitative"}}},
{"data":{"name":"indices"},"mark":{"type":"text","fontSize":8,"font":"Liberation Sans","baseline":"middle"},
"encoding":{
"color":{"value":"#666"},
"text":{"field":"t"}}}
],
"resolve":{"axis":{"x":"independent","y":"independent"}}}
